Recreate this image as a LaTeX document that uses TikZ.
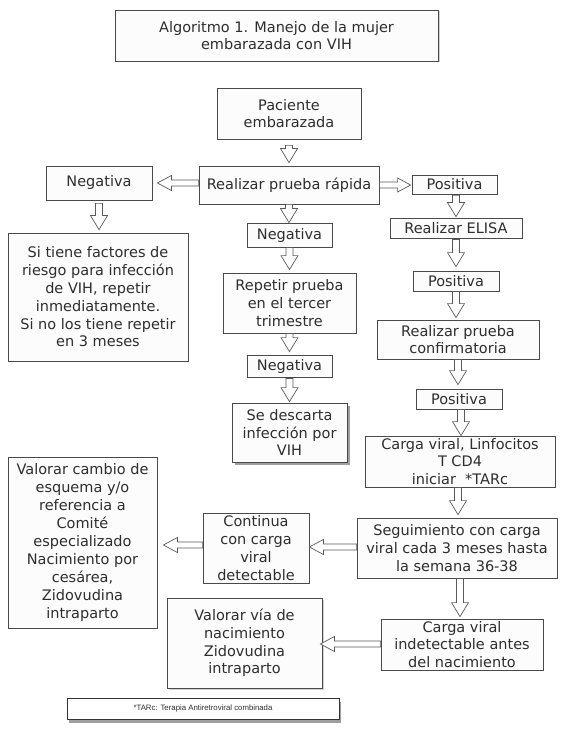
\documentclass[tikz,border=0pt]{standalone}
\usepackage{fontspec}
\setmainfont{DejaVu Sans}
\newfontfamily\footfont{Liberation Sans}
\usetikzlibrary{calc,shadows}
\definecolor{txt}{HTML}{2E2E2E}
\definecolor{brd}{HTML}{4A4A4A}
\definecolor{arr}{HTML}{5A5A5A}
\definecolor{boxfill}{HTML}{FCFCFC}
\tikzset{
  fbox/.style={draw=brd, line width=0.8pt, fill=boxfill, text=txt, inner sep=0pt,
    align=center, font=\fontsize{14.5}{17.8}\selectfont},
  blockarr/.style={draw=arr, line width=0.7pt, fill=white, line join=miter},
  softshadow/.style={drop shadow={opacity=0.35, shadow xshift=1.5pt, shadow yshift=-1.5pt}},
  hardshadow/.style={drop shadow={opacity=0.75, shadow xshift=3pt, shadow yshift=-3pt}},
  footshadow/.style={drop shadow={opacity=0.75, shadow xshift=1.5pt, shadow yshift=-4pt}}
}
% vertical hollow arrow: from #1 down to tip #2 (x taken from #1)
\newcommand\darrow[2]{\path[blockarr] let \p1=#1, \p2=#2 in
  (\x1-3.5pt,\y1) -- (\x1-3.5pt,\y2+14pt) -- (\x1-8.5pt,\y2+14pt) -- (\x1,\y2)
  -- (\x1+8.5pt,\y2+14pt) -- (\x1+3.5pt,\y2+14pt) -- (\x1+3.5pt,\y1) -- cycle;}
% leftward hollow arrow: from #1 to tip x of #2 (y taken from #1)
\newcommand\larrow[2]{\path[blockarr] let \p1=#1, \p2=#2 in
  (\x1,\y1+3pt) -- (\x2+14pt,\y1+3pt) -- (\x2+14pt,\y1+7.5pt) -- (\x2,\y1)
  -- (\x2+14pt,\y1-7.5pt) -- (\x2+14pt,\y1-3pt) -- (\x1,\y1-3pt) -- cycle;}
% rightward hollow arrow
\newcommand\rarrow[2]{\path[blockarr] let \p1=#1, \p2=#2 in
  (\x1,\y1+3pt) -- (\x2-13pt,\y1+3pt) -- (\x2-13pt,\y1+7pt) -- (\x2,\y1)
  -- (\x2-13pt,\y1-7pt) -- (\x2-13pt,\y1-3pt) -- (\x1,\y1-3pt) -- cycle;}
\begin{document}
\begin{tikzpicture}[x=1pt,y=-1pt]
\useasboundingbox[fill=white] (0,0) rectangle (567,735);

\node[fbox, softshadow, minimum width=323pt, minimum height=51pt, font=\fontsize{14.5}{17}\selectfont] (title) at (276.5,35.5)
  {Algoritmo 1. Manejo de la mujer\\embarazada con VIH};

\node[fbox, minimum width=144pt, minimum height=51pt] (pac) at (289,113.5) {Paciente\\embarazada};
\node[fbox, minimum width=180pt, minimum height=38pt] (rp) at (289,185) {Realizar prueba rápida};
\node[fbox, minimum width=106pt, minimum height=34pt] (negL) at (99,183) {Negativa};
\node[fbox, minimum width=85pt, minimum height=19pt] (pos1) at (454.5,184.5) {Positiva};
\node[fbox, minimum width=180pt, minimum height=128pt] (siT) at (98,297)
  {Si tiene factores de\\riesgo para infección\\de VIH, repetir\\inmediatamente.\\Si no los tiene repetir\\en 3 meses};
\node[fbox, minimum width=85pt, minimum height=24pt] (negM) at (289.5,235) {Negativa};
\node[fbox, minimum width=133pt, minimum height=60pt] (rep) at (289.5,303) {Repetir prueba\\en el tercer\\trimestre};
\node[fbox, minimum width=85pt, minimum height=22pt] (negM2) at (289.5,366) {Negativa};
\node[fbox, hardshadow, minimum width=115pt, minimum height=59pt] (desc) at (289.5,432.5) {Se descarta\\infección por\\VIH};
\node[fbox, minimum width=132pt, minimum height=20pt] (elisa) at (456,228) {Realizar ELISA};
\node[fbox, minimum width=86pt, minimum height=20pt] (pos2) at (456,281) {Positiva};
\node[fbox, minimum width=162pt, minimum height=39pt] (conf) at (458,339.5) {Realizar prueba\\confirmatoria};
\node[fbox, minimum width=86pt, minimum height=20pt] (pos3) at (459,399) {Positiva};
\node[fbox, minimum width=190pt, minimum height=51pt, font=\fontsize{14.5}{17.3}\selectfont] (carga) at (460,461.5)
  {Carga viral, Linfocitos\\T CD4\\iniciar\ \ *TARc};
\node[fbox, minimum width=200pt, minimum height=60pt] (seg) at (457,548)
  {Seguimiento con carga\\viral cada 3 meses hasta\\la semana 36-38};
\node[fbox, minimum width=106pt, minimum height=70pt] (cont) at (256,548)
  {Continua\\con carga\\viral\\detectable};
\node[fbox, minimum width=149pt, minimum height=171pt, font=\fontsize{14.5}{18.1}\selectfont] (valC) at (82.5,542.5)
  {Valorar cambio de\\esquema y/o\\referencia a\\Comité\\especializado\\Nacimiento por\\cesárea,\\Zidovudina\\intraparto};
\node[fbox, minimum width=162pt, minimum height=51pt] (indet) at (462,644.5)
  {Carga viral\\indetectable antes\\del nacimiento};
\node[fbox, softshadow, minimum width=155pt, minimum height=90pt] (valV) at (244.5,643)
  {Valorar vía de\\nacimiento\\Zidovudina\\intraparto};
\node[fbox, footshadow, fill=white, line width=1pt, draw=black!80, minimum width=272pt, minimum height=21pt, font=\footfont\fontsize{7.8}{9}\selectfont] (foot) at (203,708.5)
  {*TARc: Terapia Antiretroviral combinada};

% connectors
\darrow{($(pac.south)+(0,6)$)}{($(rp.north)+(0,-3)$)}
\larrow{(rp.west |- negL.east)}{($(negL.east)+(5,0)$)}
\rarrow{(rp.east)}{($(pos1.west)+(-1,0)$)}
\darrow{($(negL.south)+(0,3)$)}{($(siT.north)+(0,-3)$)}
\darrow{(rp.south)}{(negM.north)}
\darrow{(negM.south)}{($(rep.north)+(0,-3)$)}
\darrow{(rep.south)}{($(negM2.north)+(0,-3)$)}
\darrow{($(negM2.south)+(0,1)$)}{($(desc.north)+(0,-1)$)}
\darrow{($(pos1.south)+(1.5,1)$)}{($(elisa.north)+(0,-1)$)}
\darrow{($(elisa.south)+(0,1)$)}{($(pos2.north)+(0,-4)$)}
\darrow{(pos2.south)}{($(conf.north)+(0,-2)$)}
\darrow{(conf.south)}{($(pos3.north)+(0,-4)$)}
\darrow{($(pos3.south)+(2,0)$)}{(carga.north)}
\darrow{($(carga.south)+(-2,0)$)}{($(seg.north)+(0,-3)$)}
\larrow{($(seg.west)+(0,-1)$)}{(cont.east)}
\larrow{($(cont.west)+(0,-3)$)}{($(valC.east)+(6,0)$)}
\darrow{($(seg.south)+(3,0)$)}{($(indet.north)+(0,-2)$)}
\larrow{($(indet.west)+(0,-0.5)$)}{($(valV.east)+(-2,0)$)}
\end{tikzpicture}
\end{document}
